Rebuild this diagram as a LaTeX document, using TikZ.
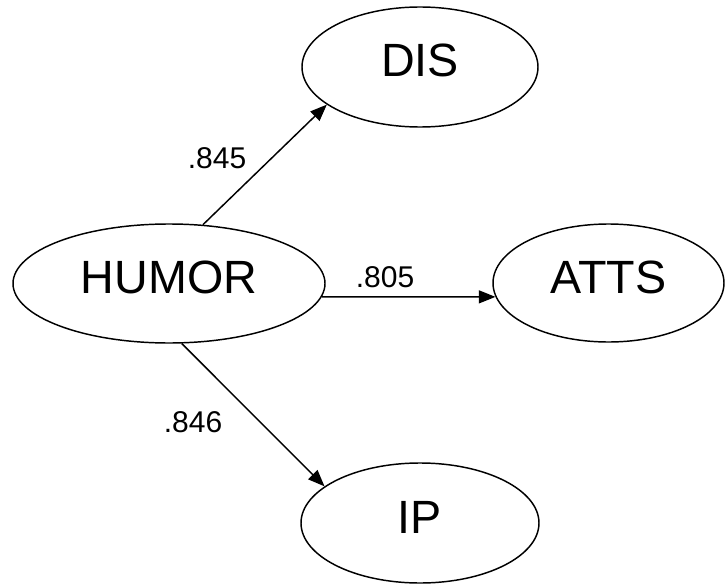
\documentclass[tikz,border=0pt]{standalone}
\usepackage{fontspec}
\setmainfont{Liberation Sans}
\usetikzlibrary{shapes.geometric,arrows.meta}
\begin{document}
\begin{tikzpicture}[x=0.75pt,y=-0.75pt,
  latent/.style={draw,ellipse,line width=1.1pt,inner sep=0pt,
    font=\fontsize{35}{40}\selectfont,text height=25.5pt,text depth=10.5pt},
  coef/.style={inner sep=0pt,font=\fontsize{22.5}{26}\selectfont,text height=16pt,text depth=0pt},
  path/.style={line width=1.1pt,-{Triangle[length=12.5pt,width=9.75pt]}}]
\useasboundingbox (0,0) rectangle (725,585);
\node[latent,minimum width=234pt,minimum height=89.25pt] (humor) at (169,283.5) {HUMOR};
\node[latent,minimum width=177pt,minimum height=90pt] (dis) at (420,67) {DIS};
\node[latent,minimum width=173.25pt,minimum height=88.5pt] (atts) at (608.5,283) {ATTS};
\node[latent,minimum width=178.5pt,minimum height=90pt] (ip) at (420,523) {IP};
\draw[path] (humor.60.3) -- (dis.202.8);
\draw[path] (humor.-5) -- (atts.187);
\draw[path] (humor.-78) -- (ip.159.6);
\node[coef] (l845) at (217,158) {.845};
\node[coef] (l805) at (385,277) {.805};
\node[coef] (l846) at (193,422) {.846};
\end{tikzpicture}
\end{document}
